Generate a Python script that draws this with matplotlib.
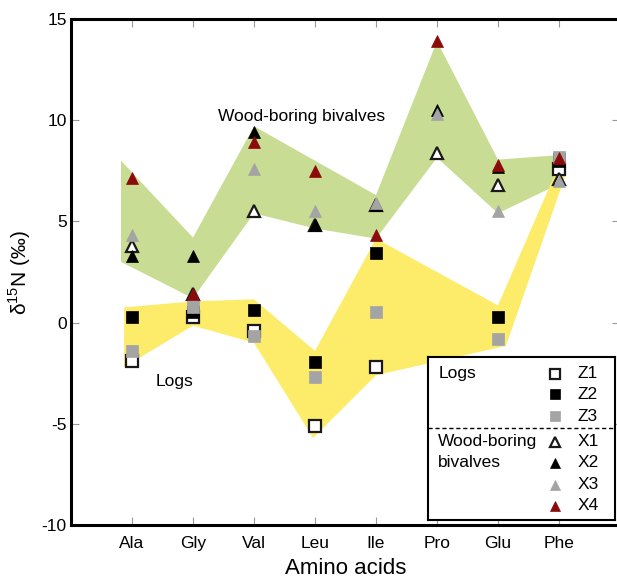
import numpy as np
import matplotlib
matplotlib.use("Agg")
import matplotlib.pyplot as plt

plt.rcParams['font.family'] = ['Liberation Sans', 'DejaVu Sans']
plt.rcParams['mathtext.fontset'] = 'custom'
plt.rcParams['mathtext.rm'] = 'Liberation Sans'
plt.rcParams['axes.unicode_minus'] = False

acids = ['Ala', 'Gly', 'Val', 'Leu', 'Ile', 'Pro', 'Glu', 'Phe']
nan = np.nan

# logs
Z1 = [-1.9, 0.3, -0.4, -5.1, -2.2, nan, nan, 7.6]
Z2 = [0.3, 0.5, 0.6, -1.95, 3.45, nan, 0.3, 8.1]
Z3 = [-1.4, 0.75, -0.65, -2.7, 0.5, nan, -0.8, 8.2]
# wood-boring bivalves
X1 = [3.8, 1.4, 5.5, 4.8, 5.8, 8.4, 6.8, 7.1]
X2 = [3.3, 3.3, 9.4, 4.8, 5.8, 10.5, 7.7, 8.0]
X3 = [4.35, 1.35, 7.6, 5.5, 5.9, 10.3, 5.5, 7.0]
X4 = [7.15, 1.4, 8.9, 7.5, 4.35, 13.9, 7.8, 8.15]

# shaded envelopes (x in category units, Ala = 1)
wood_x = [0.82, 2, 3, 5, 6, 7, 8.1, 7.9, 7, 6, 5, 4, 3, 2, 0.82]
wood_y = [8.0, 4.2, 9.7, 6.3, 13.9, 8.05, 8.3, 6.7, 5.4, 8.15, 4.15, 4.65, 5.4, 1.2, 3.0]
logs_x = [0.87, 2, 3, 4, 5, 7, 8.0, 8.12, 7.13, 5, 3.97, 3, 2, 0.87]
logs_y = [0.75, 1.05, 1.15, -1.4, 4.15, 0.85, 7.8, 7.4, -1.15, -2.6, -5.7, -1.0, -0.15, -2.2]

GRAY = '#a4a4a4'
RED = '#8b0a0a'
EDGE = '#1a1a1a'

styles = {
    'Z1': dict(marker='s', mfc='white', mec=EDGE, mew=1.6),
    'Z2': dict(marker='s', mfc='black', mec='black', mew=0.5),
    'Z3': dict(marker='s', mfc=GRAY, mec=GRAY, mew=0.5),
    'X1': dict(marker='^', mfc='white', mec=EDGE, mew=1.6),
    'X2': dict(marker='^', mfc='black', mec='black', mew=0.5),
    'X3': dict(marker='^', mfc=GRAY, mec=GRAY, mew=0.5),
    'X4': dict(marker='^', mfc=RED, mec=RED, mew=0.5),
}
series = {'Z1': Z1, 'Z2': Z2, 'Z3': Z3, 'X1': X1, 'X2': X2, 'X3': X3, 'X4': X4}

fig = plt.figure(figsize=(6.17, 5.78), dpi=100)
ax = fig.add_axes([71 / 617, 53 / 578, 549 / 617, 506 / 578])

ax.fill(wood_x, wood_y, color='#c8dc94', lw=0, zorder=1)
ax.fill(logs_x, logs_y, color='#fcec6a', lw=0, zorder=1)

xs = np.arange(1, len(acids) + 1)
for name, vals in series.items():
    ax.plot(xs, vals, ls='none', ms=8.5, zorder=3, **styles[name])

ax.text(3.78, 10.2, 'Wood-boring bivalves', ha='center', va='center', fontsize=12.5)
ax.text(1.7, -2.9, 'Logs', ha='center', va='center', fontsize=12.5)

ax.set_xlim(0, 9)
ax.set_ylim(-10, 15)
ax.set_xticks(xs)
ax.set_xticklabels(acids)
ax.set_yticks([-10, -5, 0, 5, 10, 15])
ax.tick_params(direction='in', length=6, width=0.8, color='#999999',
               labelsize=12.5, top=True, right=True)
ax.tick_params(axis='x', pad=8)
ax.tick_params(axis='y', pad=3)
for s in ['top', 'left', 'bottom']:
    ax.spines[s].set_linewidth(2.2)
ax.spines['right'].set_visible(False)

ax.set_xlabel('Amino acids', fontsize=16, labelpad=5)
ax.set_ylabel('δ$^{15}$N (‰)', fontsize=15, labelpad=6)

# legend box
lg = fig.add_axes([428 / 617, 58 / 578, 187 / 617, 163 / 578])
lg.set_xlim(0, 1)
lg.set_ylim(0, 1)
lg.set_xticks([])
lg.set_yticks([])
for s in lg.spines.values():
    s.set_linewidth(1.5)
rows = [0.896, 0.773, 0.638, 0.479, 0.350, 0.215, 0.086]
for name, yy in zip(series.keys(), rows):
    lg.plot([0.679], [yy], ls='none', ms=7, **styles[name])
    lg.text(0.80, yy, name, va='center', ha='left', fontsize=12.5)
lg.axhline(0.564, color='black', lw=1, ls=(0, (3, 2)))
lg.text(0.055, 0.896, 'Logs', va='center', ha='left', fontsize=12.5)
lg.text(0.055, 0.479, 'Wood-boring', va='center', ha='left', fontsize=12.5)
lg.text(0.055, 0.350, 'bivalves', va='center', ha='left', fontsize=12.5)

fig.savefig('out.png', dpi=100)
